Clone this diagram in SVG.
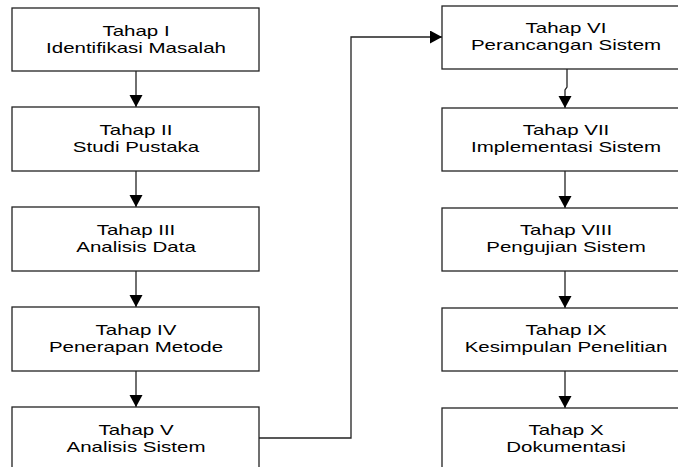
<svg xmlns="http://www.w3.org/2000/svg" width="678" height="467" viewBox="0 0 678 467">
<defs>
<style>
.box{fill:#fff;stroke:#222;stroke-width:1.3}
.t{font-family:"Liberation Sans",Arial,sans-serif;font-size:20.5px;fill:#000;text-anchor:middle}
.c{fill:none;stroke:#222;stroke-width:1.3}
</style>
<marker id="ah" markerUnits="userSpaceOnUse" markerWidth="14" markerHeight="14" refX="12" refY="6.5" orient="auto">
<path d="M0,0 L12,6.5 L0,13 Z" fill="#000"/>
</marker>
</defs>
<rect width="678" height="467" fill="#fff"/>
<g id="connectors">
<path class="c" d="M136,71 V107" marker-end="url(#ah)"/>
<path class="c" d="M136,171 V207" marker-end="url(#ah)"/>
<path class="c" d="M136,271 V307" marker-end="url(#ah)"/>
<path class="c" d="M136,371 V407" marker-end="url(#ah)"/>
<path class="c" d="M259,438 H351 V37 H442" marker-end="url(#ah)"/>
<path class="c" d="M567,69 V87 L565,90 V108" marker-end="url(#ah)"/>
<path class="c" d="M565,171 V208" marker-end="url(#ah)"/>
<path class="c" d="M565,271 V308" marker-end="url(#ah)"/>
<path class="c" d="M565,371 V408" marker-end="url(#ah)"/>
</g>
<g id="tahap1"><rect class="box" x="12" y="8" width="247" height="63"/>
<text class="t" transform="translate(136,36) scale(1,0.68)">Tahap I</text>
<text class="t" transform="translate(136,53) scale(1,0.68)">Identifikasi Masalah</text></g>
<g id="tahap2"><rect class="box" x="12" y="107" width="247" height="64"/>
<text class="t" transform="translate(136,135) scale(1,0.68)">Tahap II</text>
<text class="t" transform="translate(136,152) scale(1,0.68)">Studi Pustaka</text></g>
<g id="tahap3"><rect class="box" x="12" y="207" width="247" height="64"/>
<text class="t" transform="translate(136,235) scale(1,0.68)">Tahap III</text>
<text class="t" transform="translate(136,252) scale(1,0.68)">Analisis Data</text></g>
<g id="tahap4"><rect class="box" x="12" y="307" width="247" height="64"/>
<text class="t" transform="translate(136,335) scale(1,0.68)">Tahap IV</text>
<text class="t" transform="translate(136,352) scale(1,0.68)">Penerapan Metode</text></g>
<g id="tahap5"><rect class="box" x="12" y="407" width="247" height="64"/>
<text class="t" transform="translate(136,435) scale(1,0.68)">Tahap V</text>
<text class="t" transform="translate(136,452) scale(1,0.68)">Analisis Sistem</text></g>
<g id="tahap6"><rect class="box" x="442" y="6" width="247" height="63"/>
<text class="t" transform="translate(566,33) scale(1,0.68)">Tahap VI</text>
<text class="t" transform="translate(566,50) scale(1,0.68)">Perancangan Sistem</text></g>
<g id="tahap7"><rect class="box" x="442" y="108" width="247" height="63"/>
<text class="t" transform="translate(566,135) scale(1,0.68)">Tahap VII</text>
<text class="t" transform="translate(566,152) scale(1,0.68)">Implementasi Sistem</text></g>
<g id="tahap8"><rect class="box" x="442" y="208" width="247" height="63"/>
<text class="t" transform="translate(566,235) scale(1,0.68)">Tahap VIII</text>
<text class="t" transform="translate(566,252) scale(1,0.68)">Pengujian Sistem</text></g>
<g id="tahap9"><rect class="box" x="442" y="308" width="247" height="63"/>
<text class="t" transform="translate(566,335) scale(1,0.68)">Tahap IX</text>
<text class="t" transform="translate(566,352) scale(1,0.68)">Kesimpulan Penelitian</text></g>
<g id="tahap10"><rect class="box" x="442" y="408" width="247" height="63"/>
<text class="t" transform="translate(566,435) scale(1,0.68)">Tahap X</text>
<text class="t" transform="translate(566,452) scale(1,0.68)">Dokumentasi</text></g>
</svg>
